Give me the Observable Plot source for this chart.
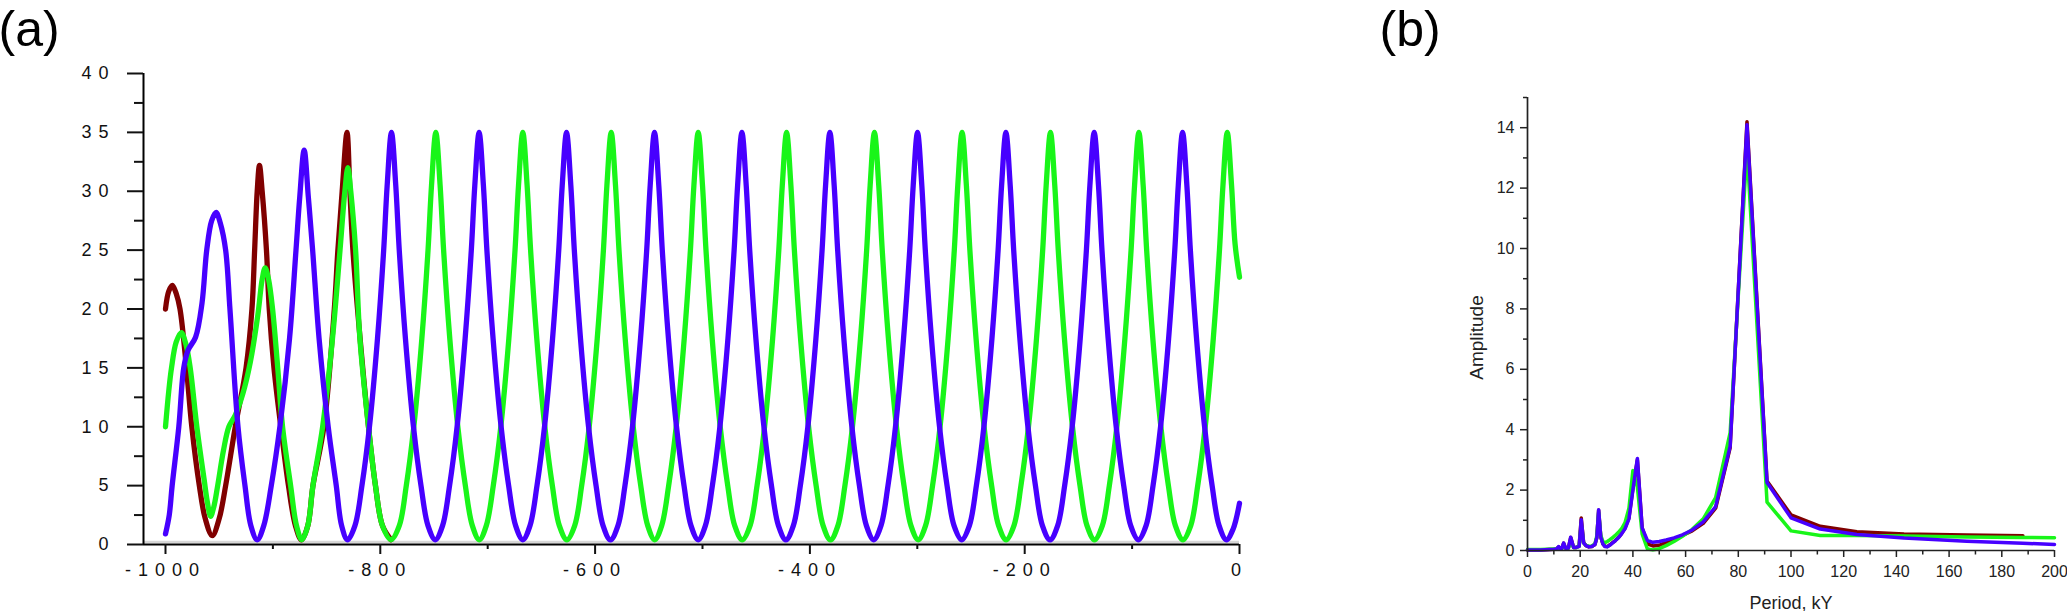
<!DOCTYPE html>
<html><head><meta charset="utf-8">
<script src="https://cdn.jsdelivr.net/npm/d3@7"></script>
<script src="https://cdn.jsdelivr.net/npm/@observablehq/plot@0.6"></script>
<style>
html,body{margin:0;padding:0;background:#fff;}
#wrap{position:relative;width:2067px;height:611px;overflow:hidden;background:#fff;}
#pa{position:absolute;left:0;top:0;}
#pb{position:absolute;left:1270px;top:0;}
</style></head><body><div id="wrap"><div id="pa"></div><div id="pb"></div></div>
<script>
// ---------- Panel (a): time series (time, value) ----------
const redA = [[-1000,20],[-997,21.5],[-993.6,22],[-990,21.3],[-986.5,20],[-980.5,15],[-975.5,10],[-968.5,5],[-963,2.2],[-956.5,0.75],[-950,2.2],[-944,5],[-935,10],[-925,15],[-919.5,20],[-917,25],[-914.6,30],[-912.5,32.2],[-910,30],[-906,25],[-903.4,20],[-899,15],[-892.6,10],[-885.5,5],[-879,1.6],[-873.4,0.4],[-867.5,1.6],[-862.7,5],[-852.5,10],[-842.8,20],[-839.5,25],[-835.5,30],[-831,35],[-828.3,30],[-825.5,25],[-821.2,20],[-811,10],[-804.5,5],[-798,1.6],[-790,0.4]];

const greenA = [[-1000,10],[-997,13],[-994.4,15],[-990,17.2],[-985.3,18],[-981,17],[-977,15],[-970.8,10],[-964,5.5],[-961,3.6],[-958,2.4],[-955,3.2],[-951.4,5],[-946,8],[-941,10],[-935,11],[-928,12.8],[-921,15.5],[-914,19.5],[-910,22.5],[-907.2,23.5],[-904,22.5],[-900.3,20],[-895.5,15],[-891,10],[-883.5,5],[-878,1.6],[-873,0.4],[-867.5,1.6],[-862.7,5],[-853.7,10],[-844.5,17.5],[-837.5,25],[-833,30],[-830.2,32],[-827.5,30],[-823,25],[-819,17.5],[-811,10],[-804.5,5],[-798,1.6],[-790,0.4],
[-782.3,1.6],[-775.8,5],[-768.8,10],[-761.3,17.5],[-755.55,25],[-752.3,30.5],[-748.3,35],[-744.3,30.5],[-741.05,25],[-735.3,17.5],[-727.8,10],[-720.8,5],[-714.3,1.6],[-707.8,0.4],
[-701.3,1.6],[-694.8,5],[-687.8,10],[-680.3,17.5],[-674.55,25],[-671.3,30.5],[-667.3,35],[-663.3,30.5],[-660.05,25],[-654.3,17.5],[-646.8,10],[-639.8,5],[-633.3,1.6],[-626.2,0.4],
[-619,1.6],[-612.5,5],[-605.5,10],[-598,17.5],[-592.25,25],[-589,30.5],[-585,35],[-581,30.5],[-577.75,25],[-572,17.5],[-564.5,10],[-557.5,5],[-551,1.6],[-544.5,0.4],
[-538,1.6],[-531.5,5],[-524.5,10],[-517,17.5],[-511.25,25],[-508,30.5],[-504,35],[-500,30.5],[-496.75,25],[-491,17.5],[-483.5,10],[-476.5,5],[-470,1.6],[-462.9,0.4],
[-455.7,1.6],[-449.2,5],[-442.2,10],[-434.7,17.5],[-428.95,25],[-425.7,30.5],[-421.7,35],[-417.7,30.5],[-414.45,25],[-408.7,17.5],[-401.2,10],[-394.2,5],[-387.7,1.6],[-380.8,0.4],
[-373.9,1.6],[-367.4,5],[-360.4,10],[-352.9,17.5],[-347.15,25],[-343.9,30.5],[-339.9,35],[-335.9,30.5],[-332.65,25],[-326.9,17.5],[-319.4,10],[-312.4,5],[-305.9,1.6],[-299.1,0.4],
[-292.3,1.6],[-285.8,5],[-278.8,10],[-271.3,17.5],[-265.55,25],[-262.3,30.5],[-258.3,35],[-254.3,30.5],[-251.05,25],[-245.3,17.5],[-237.8,10],[-230.8,5],[-224.3,1.6],[-217.2,0.4],
[-210,1.6],[-203.5,5],[-196.5,10],[-189,17.5],[-183.25,25],[-180,30.5],[-176,35],[-172,30.5],[-168.75,25],[-163,17.5],[-155.5,10],[-148.5,5],[-142,1.6],[-134.9,0.4],
[-127.7,1.6],[-121.2,5],[-114.2,10],[-106.7,17.5],[-100.95,25],[-97.7,30.5],[-93.7,35],[-89.7,30.5],[-86.45,25],[-80.7,17.5],[-73.2,10],[-66.2,5],[-59.7,1.6],[-52.6,0.4],
[-45.4,1.6],[-38.9,5],[-31.9,10],[-24.4,17.5],[-18.65,25],[-15.4,30.5],[-11.4,35],[-7.4,30.5],[-4.1,25.5],[0,22.7]];

const blueA = [[-1000,0.9],[-996.5,2.5],[-993.8,5],[-987.6,10],[-983,15],[-979,16.5],[-972,17.6],[-966,20.5],[-961.6,25],[-957,27.5],[-952.9,28.2],[-949,27.3],[-944,25],[-940,20],[-932.5,10],[-926,5],[-920.5,1.6],[-914.6,0.4],
[-908.5,1.6],[-901.5,5],[-893.5,10],[-884.5,17.5],[-878.5,25],[-875,29.5],[-870.9,33.5],[-867,29.5],[-863,25],[-857,17.5],[-848.5,10],[-841,5],[-836,1.6],[-830.5,0.4],
[-823.6,1.6],[-817.1,5],[-810.1,10],[-802.6,17.5],[-796.85,25],[-793.6,30.5],[-789.6,35],[-785.6,30.5],[-782.35,25],[-776.6,17.5],[-769.1,10],[-762.1,5],[-755.6,1.6],[-748.8,0.4],
[-742,1.6],[-735.5,5],[-728.5,10],[-721,17.5],[-715.25,25],[-712,30.5],[-708,35],[-704,30.5],[-700.75,25],[-695,17.5],[-687.5,10],[-680.5,5],[-674,1.6],[-667.3,0.4],
[-660.6,1.6],[-654.1,5],[-647.1,10],[-639.6,17.5],[-633.85,25],[-630.6,30.5],[-626.6,35],[-622.6,30.5],[-619.35,25],[-613.6,17.5],[-606.1,10],[-599.1,5],[-592.6,1.6],[-585.7,0.4],
[-578.7,1.6],[-572.2,5],[-565.2,10],[-557.7,17.5],[-551.95,25],[-548.7,30.5],[-544.7,35],[-540.7,30.5],[-537.45,25],[-531.7,17.5],[-524.2,10],[-517.2,5],[-510.7,1.6],[-504,0.4],
[-497.3,1.6],[-490.8,5],[-483.8,10],[-476.3,17.5],[-470.55,25],[-467.3,30.5],[-463.3,35],[-459.3,30.5],[-456.05,25],[-450.3,17.5],[-442.8,10],[-435.8,5],[-429.3,1.6],[-422.35,0.4],
[-415.4,1.6],[-408.9,5],[-401.9,10],[-394.4,17.5],[-388.65,25],[-385.4,30.5],[-381.4,35],[-377.4,30.5],[-374.15,25],[-368.4,17.5],[-360.9,10],[-353.9,5],[-347.4,1.6],[-340.6,0.4],
[-333.8,1.6],[-327.3,5],[-320.3,10],[-312.8,17.5],[-307.05,25],[-303.8,30.5],[-299.8,35],[-295.8,30.5],[-292.55,25],[-286.8,17.5],[-279.3,10],[-272.3,5],[-265.8,1.6],[-258.65,0.4],
[-251.5,1.6],[-245,5],[-238,10],[-230.5,17.5],[-224.75,25],[-221.5,30.5],[-217.5,35],[-213.5,30.5],[-210.25,25],[-204.5,17.5],[-197,10],[-190,5],[-183.5,1.6],[-176.4,0.4],
[-169.3,1.6],[-162.8,5],[-155.8,10],[-148.3,17.5],[-142.55,25],[-139.3,30.5],[-135.3,35],[-131.3,30.5],[-128.05,25],[-122.3,17.5],[-114.8,10],[-107.8,5],[-101.3,1.6],[-94.15,0.4],
[-87,1.6],[-80.5,5],[-73.5,10],[-66,17.5],[-60.25,25],[-57,30.5],[-53,35],[-49,30.5],[-45.75,25],[-40,17.5],[-32.5,10],[-25.5,5],[-19,1.6],[-12.2,0.4],[-6,1.3],[0,3.5]];

const yTicksA = [0,5,10,15,20,25,30,35,40];
const yMinorA = [2.5,7.5,12.5,17.5,22.5,27.5,32.5,37.5];
const xTicksA = [-1000,-800,-600,-400,-200,0];
const xMinorA = [-900,-700,-500,-300,-100];

// ---------- Panel (b): amplitude spectra ----------
const periodB = [0,5,10,11,11.8,12.5,13,13.7,14.5,15.5,16.4,17.5,18.5,19.6,20.4,21.3,22.2,23.3,24.4,25.6,26.3,27,27.8,28.6,29.4,30.3,31.3,32.3,33.3,34.5,35.7,37,38.5,40,41.7,43.5,45.5,47.6,50,52.6,55.6,58.8,62.5,66.7,71.4,76.9,83.3,90.9,100,111.1,125,142.9,166.7,188,200];
const redB = [0.02,0.02,0.04,0.05,0.12,0.05,0.06,0.24,0.07,0.08,0.43,0.1,0.1,0.15,1.08,0.26,0.16,0.12,0.13,0.2,0.42,1.33,0.45,0.22,0.14,0.13,0.19,0.26,0.33,0.43,0.56,0.74,1.08,2.05,3.0,0.75,0.22,0.15,0.17,0.27,0.38,0.5,0.65,0.9,1.4,3.4,14.2,2.3,1.18,0.8,0.62,0.55,0.51,0.49,null];
const greenB = [0.03,0.03,0.05,0.05,0.08,0.06,0.06,0.14,0.07,0.08,0.28,0.1,0.1,0.14,0.88,0.25,0.17,0.14,0.15,0.22,0.48,1.25,0.5,0.3,0.26,0.3,0.36,0.43,0.5,0.6,0.72,0.92,1.4,2.65,2.1,0.55,0.05,0.02,0.06,0.16,0.3,0.47,0.7,1.05,1.75,3.9,13.3,1.6,0.65,0.5,0.5,0.48,0.45,0.43,0.42];
const blueB = [0.02,0.02,0.04,0.05,0.13,0.05,0.06,0.25,0.07,0.08,0.44,0.1,0.1,0.14,1.02,0.25,0.16,0.12,0.13,0.2,0.42,1.35,0.45,0.22,0.13,0.12,0.18,0.25,0.32,0.42,0.55,0.72,1.05,2.0,3.05,0.75,0.33,0.27,0.3,0.35,0.42,0.52,0.68,0.95,1.45,3.45,14.1,2.25,1.08,0.71,0.53,0.41,0.31,0.24,0.2];

const yTicksB = [0,2,4,6,8,10,12,14];
const yMinorB = [1,3,5,7,9,11,13,15];
const xTicksB = [0,20,40,60,80,100,120,140,160,180,200];
const xMinorB = [10,30,50,70,90,110,130,150,170,190];

const RED = "#800000", GREEN = "#19f519", BLUE = "#4700ff";
const FONT = '"Liberation Sans", Arial, Helvetica, sans-serif';
const fmt = d => String(d);
const blank = () => "";

// ---- Plot (a)
const ax0 = -1020.48;
const plotA = Plot.plot({
  width: 1270, height: 611,
  marginLeft: 143, marginRight: 31, marginTop: 73, marginBottom: 67,
  style: {fontFamily: FONT, fontSize: "18px", color: "#111", background: "transparent"},
  x: {domain: [ax0, 0]},
  y: {domain: [0, 40]},
  marks: [
    Plot.ruleY([0], {stroke: "#d6d6d6", strokeWidth: 2.5, dy: -2.5}),
    Plot.line(redA, {x: d => d[0], y: d => d[1], stroke: RED, strokeWidth: 5.3, curve: "catmull-rom"}),
    Plot.line(greenA, {x: d => d[0], y: d => d[1], stroke: GREEN, strokeWidth: 5.3, curve: "catmull-rom"}),
    Plot.line(blueA, {x: d => d[0], y: d => d[1], stroke: BLUE, strokeWidth: 5.3, curve: "catmull-rom"}),
    Plot.ruleX([ax0], {stroke: "#000", strokeWidth: 2}),
    Plot.ruleY([0], {stroke: "#000", strokeWidth: 2}),
    Plot.axisY({anchor: "left", ticks: yTicksA, tickSize: 16, tickPadding: 12, strokeWidth: 2, tickFormat: fmt, label: null}),
    Plot.axisY({anchor: "left", ticks: yMinorA, tickSize: 9, strokeWidth: 2, tickFormat: blank, label: null}),
    Plot.axisX({anchor: "bottom", ticks: xTicksA, tickSize: 10, tickPadding: 9, strokeWidth: 2, tickFormat: fmt, label: null}),
    Plot.axisX({anchor: "bottom", ticks: xMinorA, tickSize: 5, strokeWidth: 2, tickFormat: blank, label: null}),
    Plot.text(["(a)"], {frameAnchor: "top-left", dx: -145, dy: -27.5, textAnchor: "start", lineAnchor: "bottom", fontSize: 50, fill: "#000"})
  ]
});
d3.select(plotA).selectAll('g[aria-label$="tick label"]').attr("letter-spacing", "7px");
document.getElementById("pa").appendChild(plotA);

// ---- Plot (b)
const rows = (vals) => periodB.map((p, i) => ({p, v: vals[i]}));
const plotB = Plot.plot({
  width: 797, height: 611,
  marginLeft: 257, marginRight: 13, marginTop: 97, marginBottom: 61,
  style: {fontFamily: FONT, fontSize: "16px", color: "#222", background: "transparent"},
  x: {domain: [0, 200]},
  y: {domain: [0, 15]},
  marks: [
    Plot.line(rows(redB), {x: "p", y: "v", stroke: RED, strokeWidth: 3.5}),
    Plot.line(rows(greenB), {x: "p", y: "v", stroke: GREEN, strokeWidth: 3.5}),
    Plot.line(rows(blueB), {x: "p", y: "v", stroke: BLUE, strokeWidth: 3.5}),
    Plot.ruleX([0], {stroke: "#222", strokeWidth: 1.7}),
    Plot.ruleY([0], {stroke: "#222", strokeWidth: 1.7}),
    Plot.axisY({anchor: "left", ticks: yTicksB, tickSize: 7, tickPadding: 6, strokeWidth: 1.5, tickFormat: fmt, label: null}),
    Plot.axisY({anchor: "left", ticks: yMinorB, tickSize: 4, strokeWidth: 1.5, tickFormat: blank, label: null}),
    Plot.axisX({anchor: "bottom", ticks: xTicksB, tickSize: 7, tickPadding: 8, strokeWidth: 1.5, tickFormat: fmt, label: null}),
    Plot.axisX({anchor: "bottom", ticks: xMinorB, tickSize: 4.5, strokeWidth: 1.5, tickFormat: blank, label: null}),
    Plot.text(["Amplitude"], {frameAnchor: "left", rotate: -90, dx: -45, dy: 13.5, lineAnchor: "bottom", textAnchor: "middle", fontSize: 19, fill: "#222"}),
    Plot.text(["Period, kY"], {frameAnchor: "bottom", dy: 58, lineAnchor: "bottom", textAnchor: "middle", fontSize: 18, fill: "#222"}),
    Plot.text(["(b)"], {frameAnchor: "top-left", dx: -148, dy: -51.5, textAnchor: "start", lineAnchor: "bottom", fontSize: 50, fill: "#000"})
  ]
});
document.getElementById("pb").appendChild(plotB);
</script></body></html>
